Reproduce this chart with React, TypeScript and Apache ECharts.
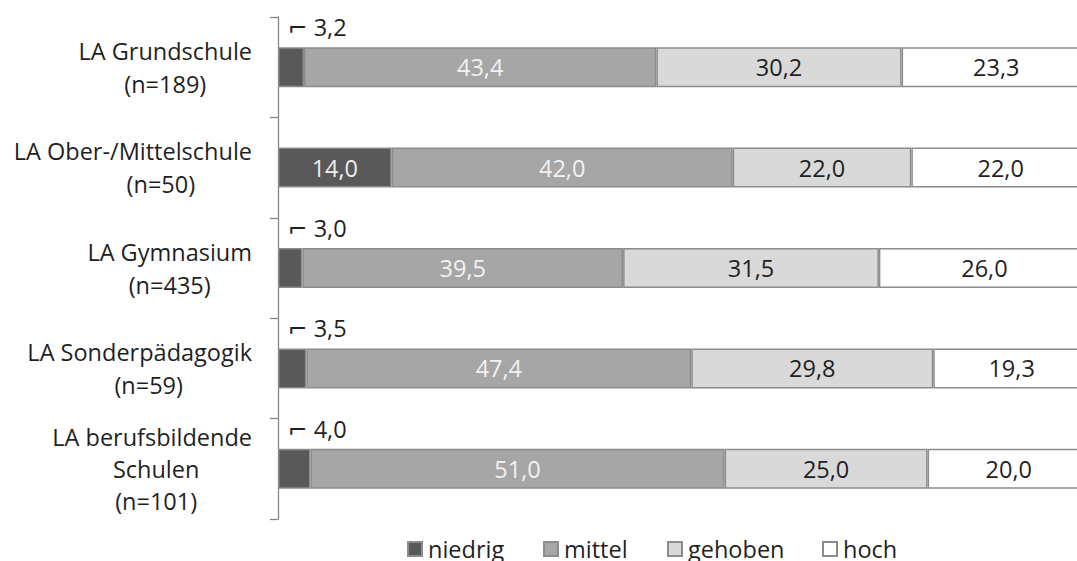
import React, { useEffect, useRef } from "react";
import * as echarts from "echarts";

const categories = [
  "LA Grundschule\n(n=189)",
  "LA Ober-/Mittelschule\n(n=50)",
  "LA Gymnasium\n(n=435)",
  "LA Sonderpädagogik\n(n=59)",
  "LA berufsbildende\nSchulen\n(n=101)",
];
const seriesNames = ["niedrig", "mittel", "gehoben", "hoch"];
const niedrig = [3.2, 14.0, 3.0, 3.5, 4.0];
const mittel = [43.4, 42.0, 39.5, 47.4, 51.0];
const gehoben = [30.2, 22.0, 31.5, 29.8, 25.0];
const hoch = [23.3, 22.0, 26.0, 19.3, 20.0];

const FONT = "'Open Sans', 'DejaVu Sans', sans-serif";
const FS = 23.5;
const fmt = (v: number) => v.toFixed(1).replace(".", ",");

export default function App() {
  const ref = useRef<HTMLDivElement>(null);
  useEffect(() => {
    if (!ref.current) return;
    const chart = echarts.init(ref.current, null, { renderer: "svg" });
    const border = { borderColor: "#8c8c8c", borderWidth: 1.5 };
    const lineOffsets = [0, 56, 0, 18, 8];
    const rich: any = {
      a: { fontSize: FS, fontFamily: FONT, color: "#1f1f1f", align: "center", lineHeight: 33 },
    };
    lineOffsets.forEach((p, i) => {
      rich["o" + i] = {
        fontSize: FS,
        fontFamily: FONT,
        color: "#1f1f1f",
        align: "center",
        lineHeight: i === 4 ? 32 : 33,
        padding: [0, 0, 0, p],
      };
    });
    rich.a5 = { ...rich.a, lineHeight: 32 };
    const mkData = (arr: number[], small: boolean) =>
      arr.map((v) =>
        small && v < 5
          ? {
              value: v,
              label: {
                show: true,
                position: [10, -20],
                align: "left",
                verticalAlign: "middle",
                color: "#1f1f1f",
                formatter: (p: any) => "{m|⌐}{v|" + fmt(p.value) + "}",
                rich: {
                  m: { fontSize: FS, fontFamily: FONT, color: "#1f1f1f", padding: [0, 6, 0, 0] },
                  v: { fontSize: FS, fontFamily: FONT, color: "#1f1f1f" },
                },
              },
            }
          : v
      );
    const labelColors = ["#ededed", "#f2f2f2", "#1f1f1f", "#1f1f1f"];
    const colors = ["#595959", "#a6a6a6", "#d9d9d9", "#ffffff"];
    const datas = [niedrig, mittel, gehoben, hoch];
    const legendLefts = [407, 543, 667, 822];
    chart.setOption({
      animation: false,
      grid: { left: 278, right: 0, top: 17, bottom: 42, containLabel: false },
      xAxis: { type: "value", min: 0, max: 98.4, show: false },
      yAxis: {
        type: "category",
        inverse: true,
        data: categories,
        axisLine: { show: true, lineStyle: { color: "#868686", width: 1.3 } },
        axisTick: { show: true, length: 8, lineStyle: { color: "#868686", width: 1.3 } },
        axisLabel: {
          margin: 26,
          align: "right",
          formatter: (value: string, idx: number) => {
            const lines = value.split("\n");
            return lines
              .map((l, k) => (k === 0 ? `{${idx === 4 ? "a5" : "a"}|${l}}` : `{o${idx}|${l}}`))
              .join("\n");
          },
          rich,
        },
      },
      legend: seriesNames.map((name, i) => ({
        left: legendLefts[i],
        top: 537,
        padding: 0,
        itemWidth: 14,
        itemHeight: 14,
        itemGap: 0,
        icon: "rect",
        textStyle: { fontSize: FS, fontFamily: FONT, color: "#1f1f1f", padding: [0, 0, 0, 1] },
        data: [name],
      })),
      series: seriesNames.map((name, i) => ({
        name,
        type: "bar",
        stack: "total",
        barWidth: 40,
        clip: false,
        itemStyle: { color: colors[i], ...border },
        label: {
          show: true,
          position: "inside",
          color: labelColors[i],
          fontSize: FS,
          fontFamily: FONT,
          formatter: (p: any) => fmt(p.value),
        },
        data: mkData(datas[i], i === 0),
      })),
    });
    return () => chart.dispose();
  }, []);
  return (
    <div
      ref={ref}
      style={{ position: "fixed", left: 0, top: 0, width: 1077, height: 561, background: "#fff" }}
    />
  );
}
